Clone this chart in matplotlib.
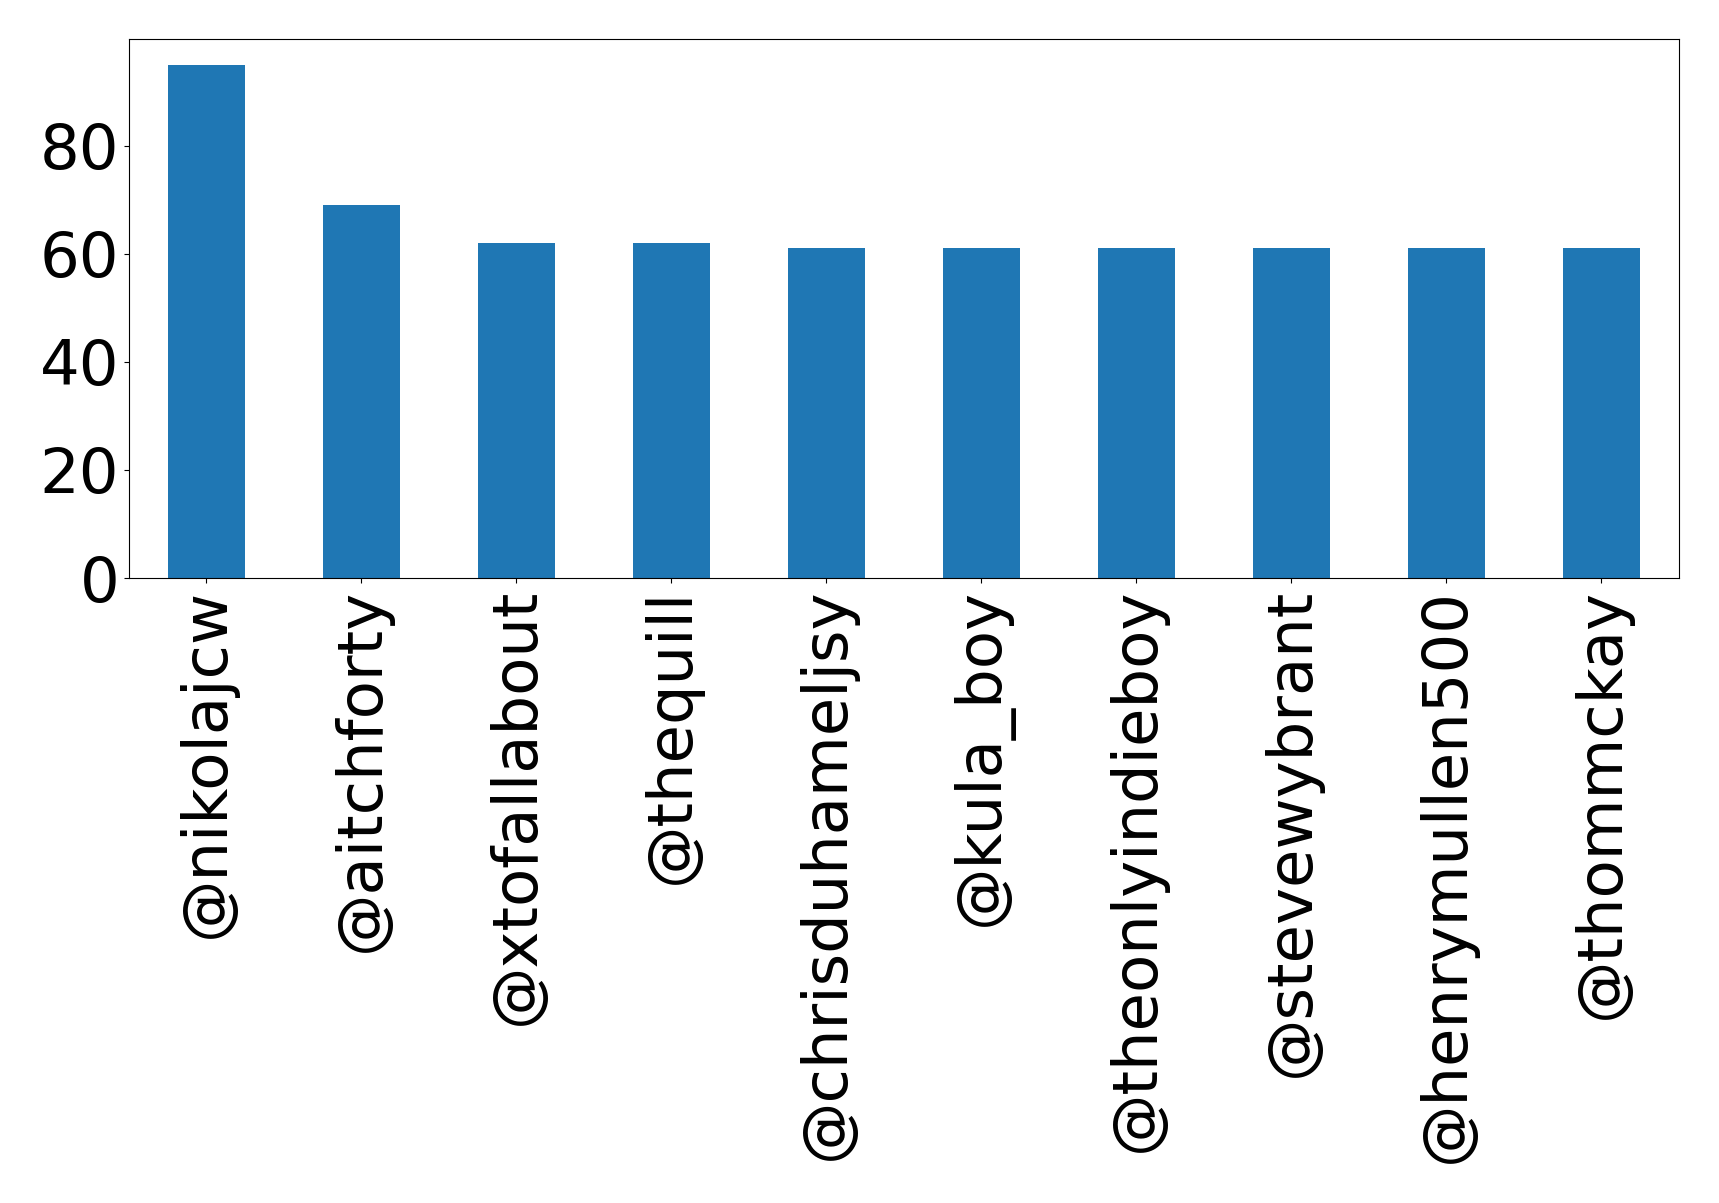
import numpy as np
import matplotlib
matplotlib.use("Agg")
import matplotlib.pyplot as plt
from matplotlib.ticker import MultipleLocator

users = ["@nikolajcw", "@aitchforty", "@xtofallabout", "@thequill", "@chrisduhameljsy",
         "@kula_boy", "@theonlyindieboy", "@stevewybrant", "@henrymullen500", "@thommckay"]
counts = [95, 69, 62, 62, 61, 61, 61, 61, 61, 61]

fig = plt.figure(figsize=(17.19, 12.03), dpi=100)
ax = fig.add_subplot(111)
x = np.arange(len(users))
ax.bar(x, counts, width=0.5, color="#1f77b4")
ax.set_xlim(-0.5, len(users) - 0.5)
ax.set_ylim(0, max(counts) * 1.05)
ax.yaxis.set_major_locator(MultipleLocator(20))
ax.set_xticks(x)
ax.set_xticklabels(users, rotation=90)
ax.tick_params(axis="both", labelsize=45)
fig.subplots_adjust(left=0.075, right=0.9767, top=0.9676, bottom=0.5195)
fig.savefig("out.png", dpi=100)
